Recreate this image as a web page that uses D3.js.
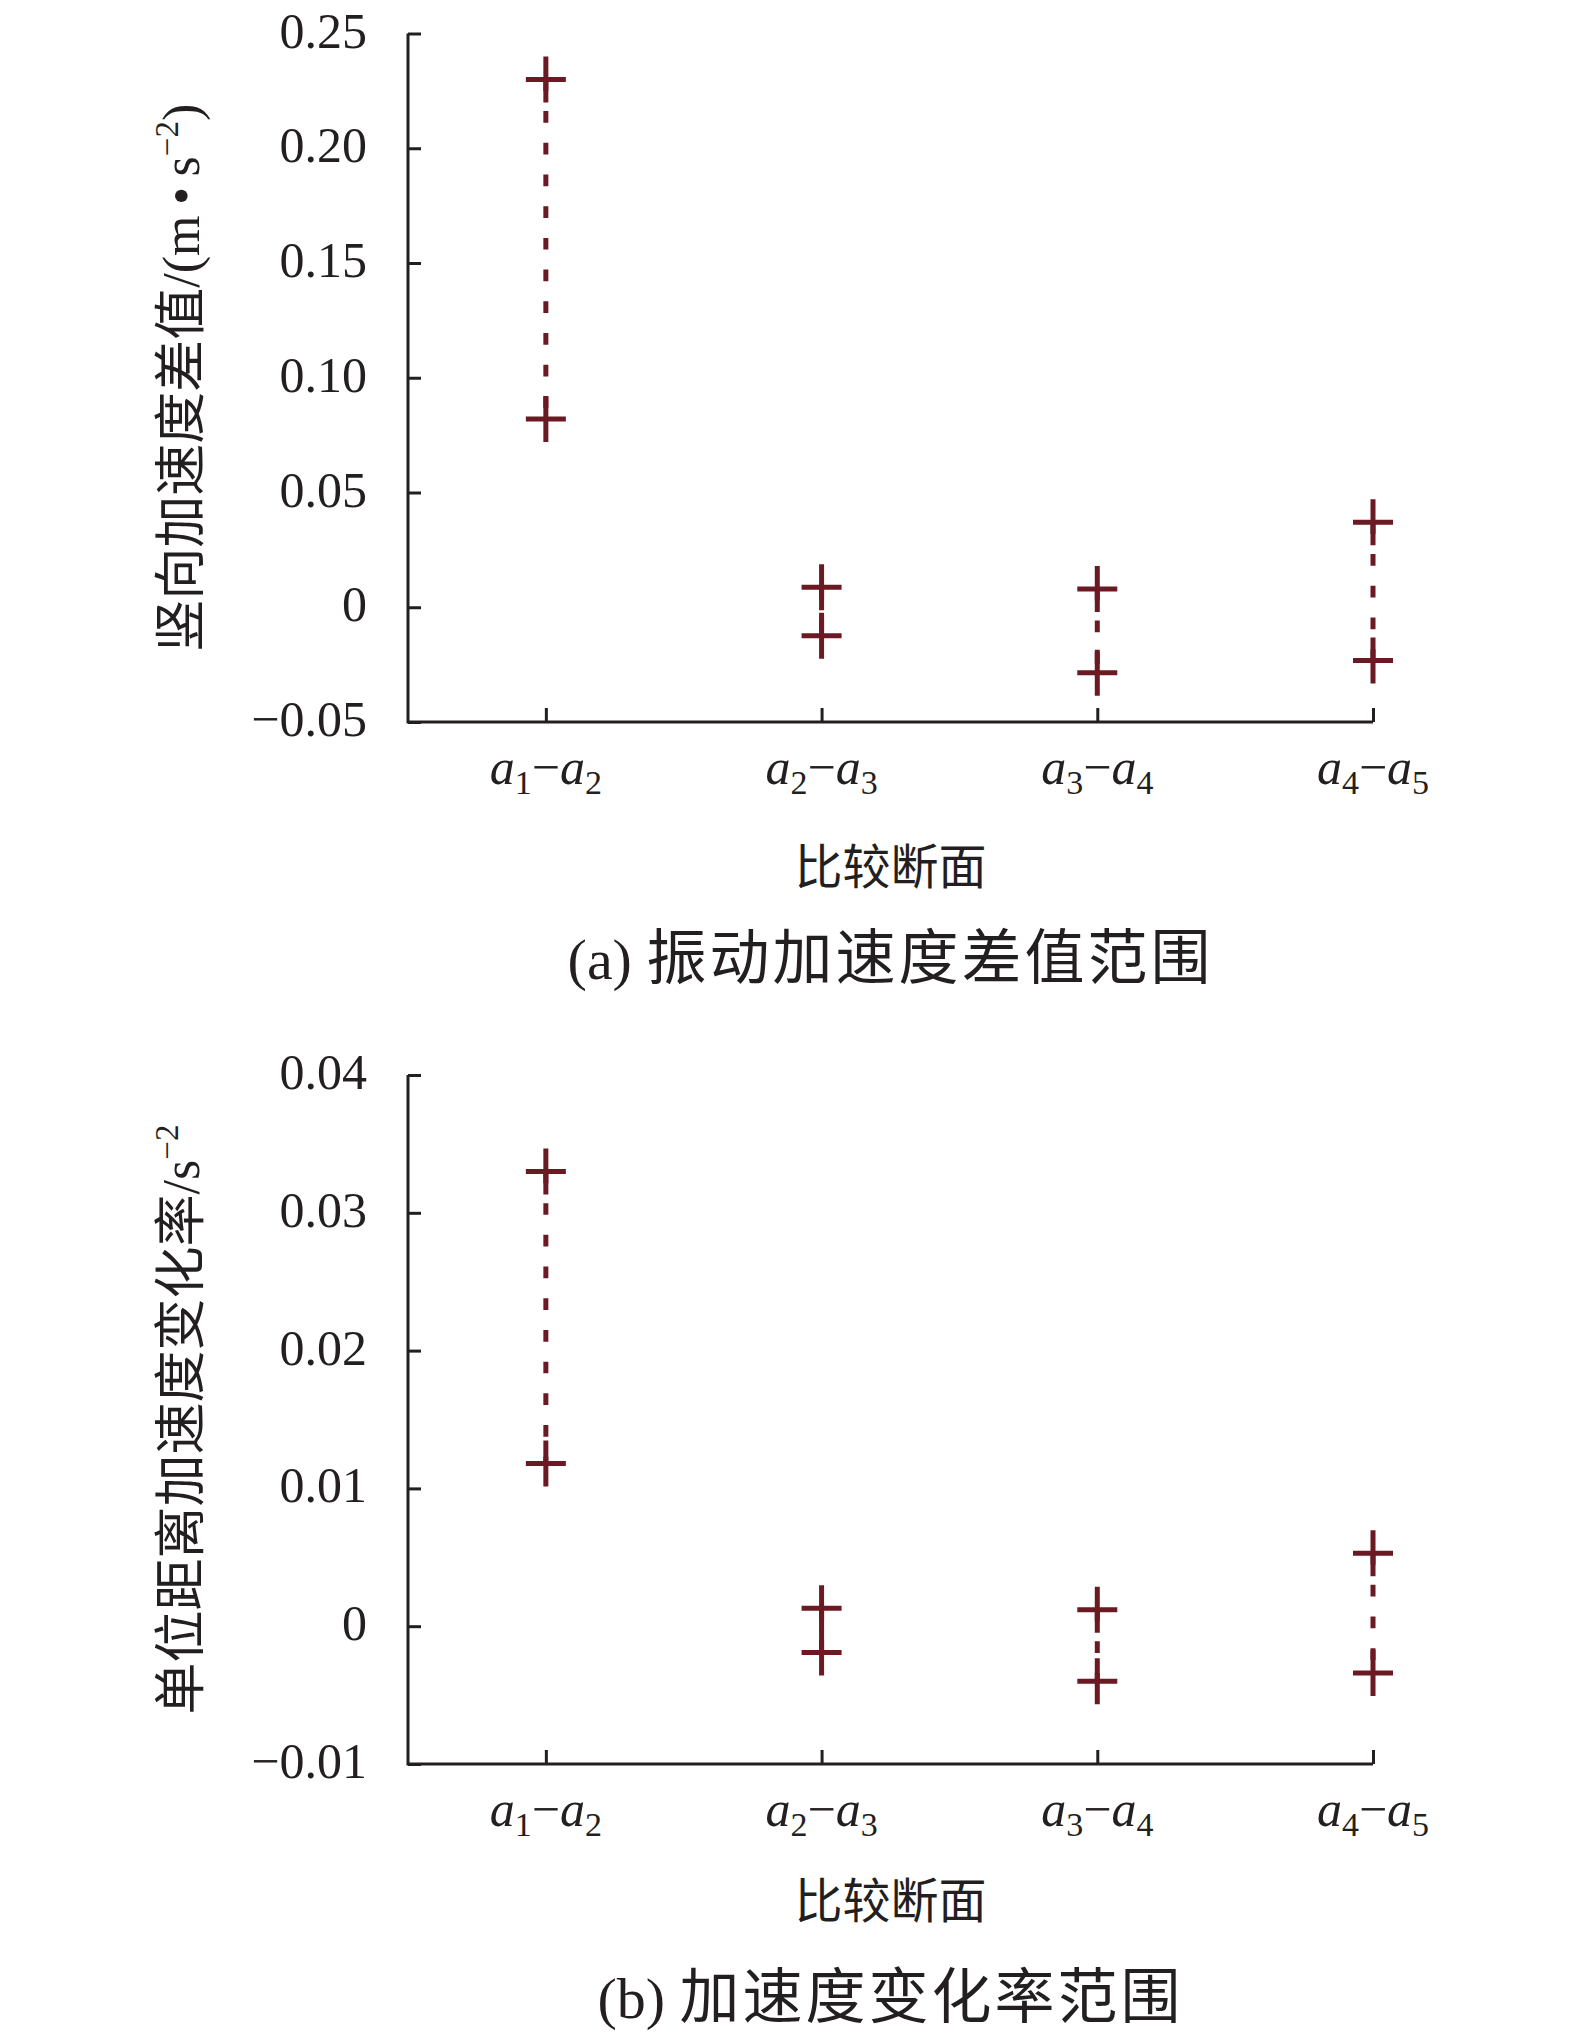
<!DOCTYPE html>
<html>
<head>
<meta charset="utf-8">
<script src="https://cdn.jsdelivr.net/npm/d3@7"></script>
<style>
  body { margin: 0; background: #fff; }
  svg { display: block; }
  text { fill: #231f20; }
</style>
</head>
<body>
<div id="chart"></div>
<script>
// comparison sections (subscript pairs for a_i - a_j)
const sections = ['a1-a2', 'a2-a3', 'a3-a4', 'a4-a5'];
const sectionIdx = [[1, 2], [2, 3], [3, 4], [4, 5]];

// (a) vertical acceleration difference range, m/s^2
const diffMax = [0.230, 0.0087, 0.0080, 0.0370];
const diffMin = [0.082, -0.0124, -0.0285, -0.0232];
const diffTicks = [-0.05, 0, 0.05, 0.10, 0.15, 0.20, 0.25];
const diffTickLabels = ['\u22120.05', '0', '0.05', '0.10', '0.15', '0.20', '0.25'];

// (b) acceleration change rate per unit distance, s^-2
const rateMax = [0.0330, 0.0013, 0.0012, 0.0053];
const rateMin = [0.0118, -0.0019, -0.0040, -0.0034];
const rateTicks = [-0.01, 0, 0.01, 0.02, 0.03, 0.04];
const rateTickLabels = ['\u22120.01', '0', '0.01', '0.02', '0.03', '0.04'];

const W = 1575, H = 2041;
const ink = '#231f20';
const red = '#6b1a24';
const serif = 'Liberation Serif, Times New Roman, serif';
const cjk = 'Noto Sans CJK SC, sans-serif';

const svg = d3.select('#chart').append('svg')
    .attr('width', W)
    .attr('height', H)
    .style('background', '#fff');

function drawPanel(cfg) {
    const left = 408, right = 1373;
    const step = (right - left) / 3.5;

    const x = d3.scalePoint()
        .domain(sections)
        .range([left + step / 2, right]);

    const y = d3.scaleLinear()
        .domain(d3.extent(cfg.ticks))
        .range([cfg.bottom, cfg.top]);

    const g = svg.append('g');

    // y axis, ticks point inward
    const yAxis = g.append('g')
        .attr('transform', `translate(${left},0)`)
        .call(d3.axisLeft(y)
            .tickValues(cfg.ticks)
            .tickFormat((d, i) => cfg.tickLabels[i])
            .tickSizeInner(-13)
            .tickSizeOuter(0)
            .tickPadding(41));
    yAxis.select('.domain').remove();
    yAxis.selectAll('.tick line').attr('stroke', ink).attr('stroke-width', 3);
    yAxis.selectAll('.tick text')
        .attr('font-family', serif)
        .attr('font-size', 50)
        .attr('dy', '0.27em')
        .attr('fill', ink);

    // x axis
    const xAxis = g.append('g')
        .attr('transform', `translate(0,${cfg.bottom})`)
        .call(d3.axisBottom(x)
            .tickFormat('')
            .tickSizeInner(-14)
            .tickSizeOuter(0));
    xAxis.select('.domain').remove();
    xAxis.selectAll('.tick line').attr('stroke', ink).attr('stroke-width', 3);

    // axis lines
    g.append('path')
        .attr('d', `M${left},${y(cfg.ticks[cfg.ticks.length - 1])}V${cfg.bottom}H${right}`)
        .attr('fill', 'none')
        .attr('stroke', ink)
        .attr('stroke-width', 3);

    // category labels a_i - a_j
    sections.forEach((s, i) => {
        const t = g.append('text')
            .attr('x', x(s))
            .attr('y', cfg.bottom + 62)
            .attr('text-anchor', 'middle')
            .attr('font-family', serif)
            .attr('font-size', 50)
            .attr('fill', ink);
        t.append('tspan').attr('font-style', 'italic').text('a');
        t.append('tspan').attr('font-size', 34).attr('dy', 10).text(sectionIdx[i][0]);
        t.append('tspan').attr('dy', -10).text('\u2212');
        t.append('tspan').attr('font-style', 'italic').text('a');
        t.append('tspan').attr('font-size', 34).attr('dy', 10).text(sectionIdx[i][1]);
    });

    // range lines
    g.selectAll('.range')
        .data(sections)
        .enter().append('line')
        .attr('class', 'range')
        .attr('x1', d => x(d))
        .attr('x2', d => x(d))
        .attr('y1', (d, i) => y(cfg.max[i]))
        .attr('y2', (d, i) => y(cfg.min[i]))
        .attr('stroke', red)
        .attr('stroke-width', 5)
        .attr('stroke-dasharray', '11.7,20');

    // plus markers
    const pts = [];
    sections.forEach((s, i) => {
        pts.push({ s: s, v: cfg.max[i] });
        pts.push({ s: s, v: cfg.min[i] });
    });
    g.selectAll('.plus')
        .data(pts)
        .enter().append('path')
        .attr('class', 'plus')
        .attr('transform', d => `translate(${x(d.s)},${y(d.v)})`)
        .attr('d', 'M-20,0H20M0,-23V23')
        .attr('fill', 'none')
        .attr('stroke', red)
        .attr('stroke-width', 5);

    // y title
    const yt = g.append('text')
        .attr('transform', `translate(199,${(cfg.top + cfg.bottom) / 2}) rotate(-90)`)
        .attr('text-anchor', 'middle')
        .attr('font-size', 52)
        .attr('fill', ink);
    yt.append('tspan').attr('font-family', cjk).text(cfg.yTitleCjk);
    yt.append('tspan').attr('font-family', serif).text(cfg.yTitleUnit);
    yt.append('tspan').attr('font-family', serif).attr('font-size', 33).attr('dy', -21).text('\u22122');
    if (cfg.yTitleEnd) {
        yt.append('tspan').attr('font-family', serif).attr('dy', 21).text(cfg.yTitleEnd);
    }

    // x title
    g.append('text')
        .attr('x', (left + right) / 2)
        .attr('y', cfg.xTitleY)
        .attr('text-anchor', 'middle')
        .attr('font-family', cjk)
        .attr('font-size', 48)
        .attr('fill', ink)
        .text('比较断面');

    // caption
    const cap = g.append('text')
        .attr('x', (left + right) / 2)
        .attr('y', cfg.captionY)
        .attr('text-anchor', 'middle')
        .attr('fill', ink);
    cap.append('tspan').attr('font-family', serif).attr('font-size', 58).text(cfg.captionTag + ' ');
    cap.append('tspan').attr('font-family', cjk).attr('font-size', 60)
        .attr('letter-spacing', 3).text(cfg.captionText);
}

drawPanel({
    ticks: diffTicks,
    tickLabels: diffTickLabels,
    max: diffMax,
    min: diffMin,
    top: 33.5,
    bottom: 722,
    yTitleCjk: '竖向加速度差值',
    yTitleUnit: '/(m\u2009\u2022\u2009s',
    yTitleEnd: ')',
    xTitleY: 884,
    captionY: 979,
    captionTag: '(a)',
    captionText: '振动加速度差值范围'
});

drawPanel({
    ticks: rateTicks,
    tickLabels: rateTickLabels,
    max: rateMax,
    min: rateMin,
    top: 1075,
    bottom: 1764,
    yTitleCjk: '单位距离加速度变化率',
    yTitleUnit: '/s',
    yTitleEnd: null,
    xTitleY: 1918,
    captionY: 2018,
    captionTag: '(b)',
    captionText: '加速度变化率范围'
});
</script>
</body>
</html>
